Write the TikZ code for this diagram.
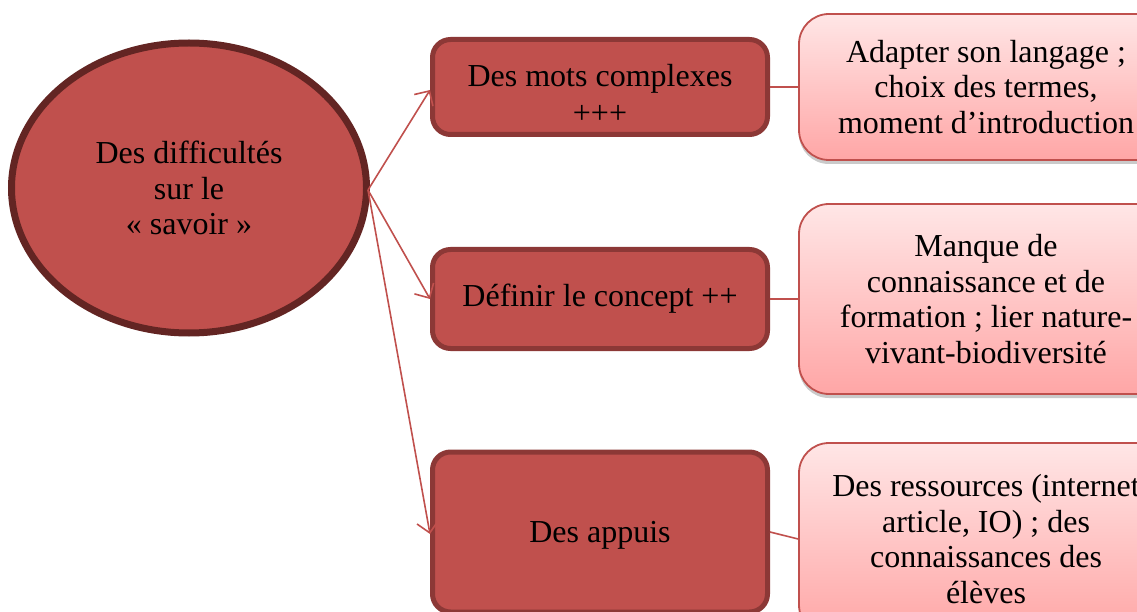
\documentclass[tikz,border=0pt]{standalone}
\usepackage{fontspec}
\setmainfont{Liberation Serif}
\usetikzlibrary{arrows.meta,shapes.geometric,shadows}
\definecolor{boxfill}{HTML}{C0504D}
\definecolor{boxline}{HTML}{8C3836}
\definecolor{ellline}{HTML}{632523}
\definecolor{rtop}{HTML}{FFE6E6}
\definecolor{rbot}{HTML}{FFA6A6}
\definecolor{conncol}{HTML}{C0504D}
\tikzset{
  txt/.style={font=\fontsize{32}{35.5}\selectfont, align=center, text=black, inner sep=0pt},
  ell/.style={txt, ellipse, draw=ellline, line width=7pt, fill=boxfill},
  midbox/.style={txt, rectangle, rounded corners=18pt, draw=boxline, line width=5pt, fill=boxfill,
    minimum width=335pt},
  rbox/.style={txt, rectangle, rounded corners=30pt, draw=conncol, line width=1.8pt,
    top color=rtop, bottom color=rbot, minimum width=374pt,
    drop shadow={shadow xshift=0pt, shadow yshift=-4pt, opacity=0.35, fill=black!60}},
  conn/.style={draw=conncol, line width=1.6pt},
  arr/.style={conn, -{Straight Barb[length=11pt,width=22pt,line width=1.6pt]}}
}
\begin{document}
\begin{tikzpicture}[x=1pt,y=-1pt]
\useasboundingbox (0,0) rectangle (1137,612);
\clip (0,0) rectangle (1137,612);
\node[ell, minimum width=355pt, minimum height=290pt] (E) at (189,188) {Des difficultés\\sur le\\« savoir »};
\node[midbox, minimum height=95pt] (B1) at (600,87) {\rule{0pt}{36pt}Des mots complexes\\[1.5pt]+++};
\node[midbox, minimum height=99pt] (B2) at (600,299) {Définir le concept ++};
\node[midbox, minimum height=160pt] (B3) at (600,532) {\rule{0pt}{28pt}Des appuis};
\node[rbox, minimum height=146pt] (R1) at (986,87) {Adapter son langage ;\\choix des termes,\\moment d’introduction};
\node[rbox, minimum height=190pt] (R2) at (986,299) {Manque de\\connaissance et de\\formation ; lier nature-\\vivant-biodiversité};
\node[rbox, minimum height=192pt] (R3) at (986,539) {Des ressources (internet\\article, IO) ; des\\connaissances des\\élèves};
\coordinate (S) at (368,190);
\draw[arr] (S) -- ([yshift=-3pt]B1.west);
\draw[arr] (S) -- (B2.west);
\draw[arr] (S) -- ([yshift=-2pt]B3.west);
\draw[conn] (B1.east) -- (R1.west);
\draw[conn] (B2.east) -- (R2.west);
\draw[conn] (B3.east) -- (R3.west);
\end{tikzpicture}
\end{document}
